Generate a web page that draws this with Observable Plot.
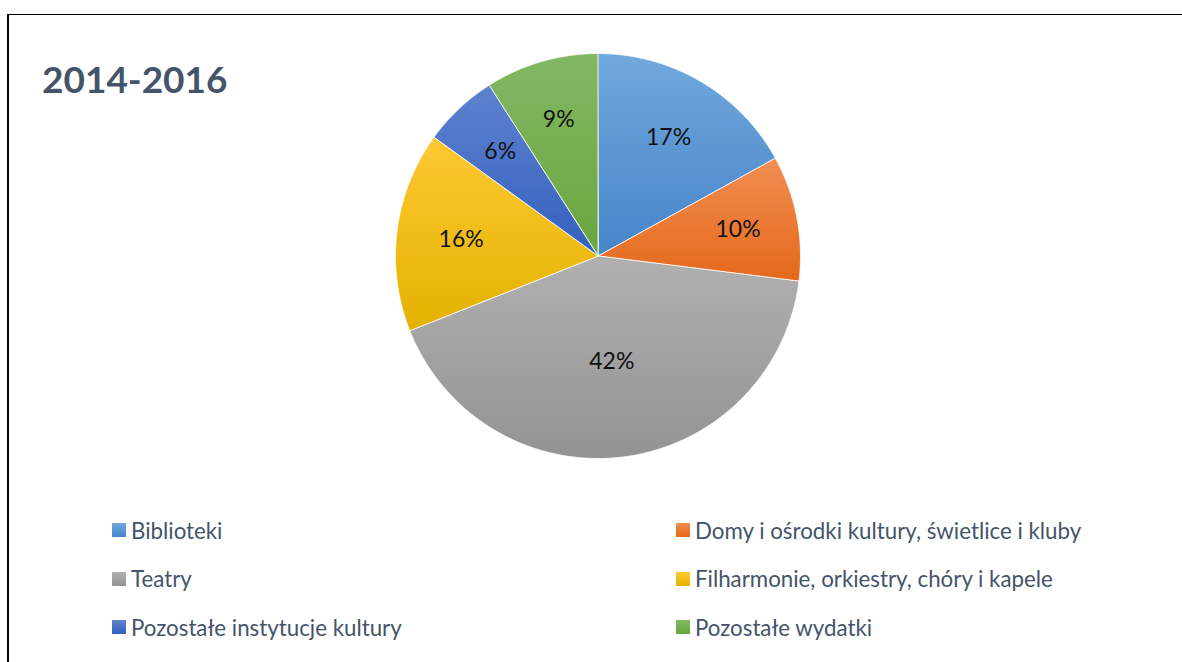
<!DOCTYPE html>
<html>
<head>
<meta charset="utf-8">
<script src="https://cdn.jsdelivr.net/npm/d3@7"></script>
<script src="https://cdn.jsdelivr.net/npm/@observablehq/plot@0.6"></script>
<style>
  html, body { margin: 0; padding: 0; background: #fff; }
  body { width: 1182px; height: 662px; overflow: hidden; position: relative; font-family: Lato, "Open Sans", sans-serif; }
  #frame { position: absolute; left: 7px; top: 14px; width: 1300px; height: 800px; border-top: 1.5px solid #000; border-left: 2px solid #000; box-sizing: border-box; }
  #title { position: absolute; left: 42px; top: 60px; font-size: 37px; line-height: 37px; font-weight: 700; color: #44546A; white-space: nowrap; }
  #pie { position: absolute; left: 388px; top: 46px; }
  .leg { position: absolute; display: flex; align-items: center; height: 30px; font-size: 22.3px; color: #44546A; white-space: nowrap; }
  .sw { width: 14px; height: 14px; margin-right: 5px; flex: none; }
</style>
</head>
<body>
<div id="frame"></div>
<div id="title">2014-2016</div>
<div id="pie"></div>
<div id="legend"></div>
<script>
// ---- data ----
const categories = [
  "Biblioteki",
  "Domy i ośrodki kultury, świetlice i kluby",
  "Teatry",
  "Filharmonie, orkiestry, chóry i kapele",
  "Pozostałe instytucje kultury",
  "Pozostałe wydatki"
];
const shares = [17, 10, 42, 16, 6, 9];
const colorsTop = ["#71A8DD", "#F28D52", "#B0B0B0", "#FFC833", "#5E82CF", "#84B864"];
const colorsBottom = ["#4685C9", "#E4691B", "#939393", "#E3B200", "#3360BE", "#68A63D"];
const title = "2014-2016";

// ---- pie geometry from the data ----
const arcs = d3.pie().sort(null).value(d => d)(shares);
const wedges = arcs.map((a, i) => {
  const n = Math.max(8, Math.ceil((a.endAngle - a.startAngle) / 0.005));
  return d3.range(n + 1).map(k => {
    const t = a.startAngle + (a.endAngle - a.startAngle) * k / n;
    return {cat: categories[i], x: Math.sin(t), y: Math.cos(t)};
  });
});
const labels = arcs.map((a, i) => {
  const half = (a.endAngle - a.startAngle) / 2;
  const mid = (a.startAngle + a.endAngle) / 2;
  const r = (2 * Math.sin(half) / (3 * half)) * 1.07;
  return {text: shares[i] + "%", x: r * Math.sin(mid), y: r * Math.cos(mid)};
});

const R = 210 / 202.5;
const marks = wedges.map((pts, i) => Plot.area(pts, {
  x1: "x", y1: "y", x2: 0, y2: 0,
  fill: `url(#grad${i})`, stroke: "#fff", strokeWidth: 0.8, strokeLinejoin: "round"
}));
marks.push(Plot.text(labels, {x: "x", y: "y", text: "text", fontSize: 23, fontFamily: "Lato", fill: "#111"}));

const plot = Plot.plot({
  width: 420, height: 420,
  margin: 0,
  x: {domain: [-R, R], axis: null},
  y: {domain: [-R, R], axis: null},
  style: {background: "transparent", overflow: "visible"},
  marks
});

const defs = d3.select(plot).insert("defs", ":first-child");
categories.forEach((c, i) => {
  const g = defs.append("linearGradient").attr("id", "grad" + i)
    .attr("x1", 0).attr("y1", 0).attr("x2", 0).attr("y2", 1);
  g.append("stop").attr("offset", "0%").attr("stop-color", colorsTop[i]);
  g.append("stop").attr("offset", "100%").attr("stop-color", colorsBottom[i]);
});
document.getElementById("pie").appendChild(plot);
document.getElementById("title").textContent = title;

// ---- legend ----
const legend = document.getElementById("legend");
const colX = [112, 676];
const rowY = [515, 563.5, 612];
categories.forEach((c, i) => {
  const item = document.createElement("div");
  item.className = "leg";
  item.style.left = colX[i % 2] + "px";
  item.style.top = rowY[Math.floor(i / 2)] + "px";
  const sw = document.createElement("span");
  sw.className = "sw";
  sw.style.background = `linear-gradient(${colorsTop[i]}, ${colorsBottom[i]})`;
  const tx = document.createElement("span");
  tx.textContent = c;
  item.appendChild(sw);
  item.appendChild(tx);
  legend.appendChild(item);
});
</script>
</body>
</html>
